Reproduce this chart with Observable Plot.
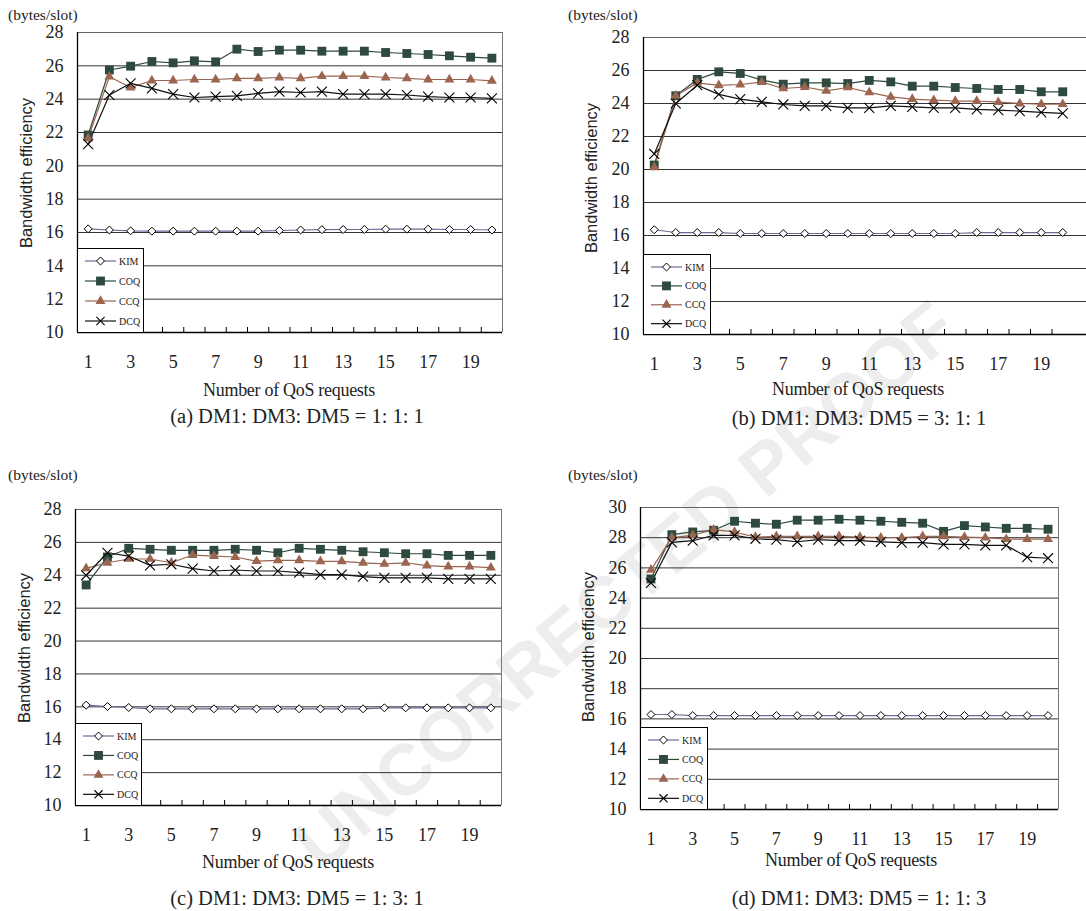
<!DOCTYPE html>
<html><head><meta charset="utf-8">
<script src="https://cdn.jsdelivr.net/npm/d3@7"></script>
<script src="https://cdn.jsdelivr.net/npm/@observablehq/plot@0.6"></script>
<style>
body{margin:0;background:#fff;}
#root{position:relative;width:1086px;height:911px;overflow:hidden;font-family:"Liberation Serif","Times New Roman",serif;color:#222;}
.abs{position:absolute;white-space:nowrap;line-height:1;}
.c{transform:translate(-50%,-50%);}
svg{overflow:visible;}
</style></head><body><div id="root"></div>
<script>
// ---------------- data ----------------
const requests = [1,2,3,4,5,6,7,8,9,10,11,12,13,14,15,16,17,18,19,20];
const xTickLabels = [1,3,5,7,9,11,13,15,17,19];
const seriesNames = ["KIM","COQ","CCQ","DCQ"];
const yTicks28 = [10,12,14,16,18,20,22,24,26,28];
const yTicks30 = [10,12,14,16,18,20,22,24,26,28,30];

const kimA = [16.22,16.15,16.1,16.08,16.08,16.08,16.08,16.08,16.08,16.12,16.15,16.17,16.18,16.18,16.2,16.2,16.2,16.18,16.18,16.15];
const coqA = [21.85,25.75,25.98,26.26,26.18,26.3,26.24,27.0,26.86,26.94,26.94,26.88,26.88,26.88,26.8,26.74,26.68,26.6,26.52,26.46];
const ccqA = [21.65,25.35,24.7,25.12,25.12,25.18,25.18,25.25,25.25,25.3,25.25,25.38,25.38,25.38,25.3,25.25,25.18,25.18,25.18,25.1];
const dcqA = [21.3,24.25,24.95,24.65,24.3,24.1,24.15,24.2,24.35,24.45,24.4,24.45,24.3,24.3,24.3,24.25,24.15,24.1,24.1,24.05];

const kimB = [16.35,16.18,16.18,16.18,16.12,16.12,16.12,16.12,16.12,16.12,16.12,16.12,16.12,16.12,16.12,16.18,16.18,16.18,16.18,16.18];
const coqB = [20.27,24.47,25.46,25.92,25.82,25.42,25.17,25.25,25.25,25.21,25.4,25.31,25.05,25.05,24.97,24.91,24.85,24.85,24.71,24.71];
const ccqB = [20.13,24.47,25.25,25.1,25.15,25.3,24.91,25.0,24.77,24.97,24.67,24.4,24.27,24.2,24.15,24.15,24.08,24.0,23.96,23.96];
const dcqB = [20.94,24.0,25.11,24.55,24.27,24.1,23.94,23.86,23.86,23.74,23.74,23.86,23.8,23.74,23.74,23.64,23.6,23.54,23.46,23.4];

const kimC = [16.1,16.02,15.96,15.88,15.88,15.88,15.88,15.88,15.88,15.88,15.88,15.88,15.88,15.88,15.94,15.94,15.94,15.94,15.94,15.94];
const coqC = [23.41,25.11,25.64,25.58,25.52,25.52,25.52,25.58,25.52,25.37,25.64,25.58,25.52,25.43,25.37,25.31,25.31,25.21,25.21,25.21];
const ccqC = [24.42,24.76,24.99,24.99,24.76,25.23,25.17,25.11,24.86,24.91,24.91,24.85,24.85,24.76,24.69,24.76,24.59,24.53,24.53,24.46];
const dcqC = [24.0,25.37,25.17,24.6,24.67,24.4,24.26,24.32,24.26,24.26,24.16,24.04,24.04,23.92,23.84,23.84,23.84,23.78,23.78,23.78];

const kimD = [16.29,16.29,16.22,16.22,16.22,16.22,16.22,16.22,16.22,16.22,16.22,16.22,16.22,16.22,16.22,16.22,16.22,16.22,16.22,16.22];
const coqD = [25.27,28.2,28.38,28.49,29.09,28.96,28.89,29.16,29.16,29.22,29.16,29.09,29.02,28.96,28.42,28.8,28.71,28.62,28.62,28.56];
const ccqD = [25.87,28.0,28.16,28.53,28.38,28.04,28.09,28.09,28.09,28.09,28.04,28.0,28.0,28.09,28.09,28.04,28.0,27.9,27.9,27.9];
const dcqD = [25.0,27.69,27.8,28.16,28.16,27.93,27.87,27.73,27.87,27.8,27.8,27.73,27.67,27.67,27.56,27.56,27.49,27.49,26.71,26.64];

const captions = ["(a) DM1: DM3: DM5 = 1: 1: 1","(b) DM1: DM3: DM5 = 3: 1: 1","(c) DM1: DM3: DM5 = 1: 3: 1","(d) DM1: DM3: DM5 = 1: 1: 3"];
const unitLabel = "(bytes/slot)";
const yTitle = "Bandwidth efficiency";
const xTitle = "Number of QoS requests";
const watermark = "UNCORRECTED PROOF";

// ---------------- styles & layout ----------------
const SERIF = "'Liberation Serif','Times New Roman',serif";
const SANS = "'Liberation Sans',Arial,sans-serif";
const styles = {
  KIM: {line:"#6b6b96", symbol:"diamond2", r:3.6, fill:"#fff", stroke:"#000", sw:1},
  COQ: {line:"#2e4a3e", symbol:"square", r:5, fill:"#2e4a3e", stroke:"none", sw:0},
  CCQ: {line:"#9b6550", symbol:"triangle", r:3.7, fill:"#9b6550", stroke:"none", sw:0},
  DCQ: {line:"#111", symbol:"times", r:4.6, fill:"none", stroke:"#000", sw:1.1}
};
const panels = [
  {vals:[kimA,coqA,ccqA,dcqA], L:77, R:502, T:32, B:332, yTicks:yTicks28, xEnd:20.5, border:true,
   unit:[8,15], yt:[26,173], xt:[289,390], cap:[297,416], leg:[77,248,67,84]},
  {vals:[kimB,coqB,ccqB,dcqB], L:643, R:1073, T:37, B:334, yTicks:yTicks28, xEnd:21.4, border:false,
   unit:[568,15], yt:[591,178], xt:[858,389], cap:[859,418], leg:[643,254,68,80]},
  {vals:[kimC,coqC,ccqC,dcqC], L:75, R:501, T:509, B:805, yTicks:yTicks28, xEnd:20.5, border:true,
   unit:[8,475], yt:[24,648], xt:[288,862], cap:[297,898], leg:[75,723,67,82]},
  {vals:[kimD,coqD,ccqD,dcqD], L:640, R:1058, T:507, B:809, yTicks:yTicks30, xEnd:20.5, border:true,
   unit:[568,475], yt:[588,647], xt:[851,860], cap:[859,898], leg:[640,727,68,82]}
];

const root = document.getElementById("root");

// watermark (behind everything); kept fully inside the page
const wm = document.createElement("div");
wm.className = "abs";
wm.textContent = watermark;
Object.assign(wm.style,{fontFamily:SANS, fontWeight:"bold", fontSize:"72px", color:"#ededed",
  transformOrigin:"50% 50%", transform:"rotate(-40deg)"});
root.appendChild(wm);
{
  const w = wm.offsetWidth, h = wm.offsetHeight;
  wm.style.left = (625 - w / 2) + "px";
  wm.style.top = (585 - h / 2) + "px";
}

function addText(txt, x, y, css, centered){
  const d = document.createElement("div");
  d.className = "abs" + (centered ? " c" : "");
  d.textContent = txt;
  Object.assign(d.style, {left:x+"px", top:y+"px", fontFamily:SERIF}, css);
  root.appendChild(d);
  return d;
}

panels.forEach((p, pi) => {
  const mL = 70, mT = 10, mB = 50, mR = 10;
  const W = mL + (p.R - p.L) + mR, H = mT + (p.B - p.T) + mB;
  const yMax = p.yTicks[p.yTicks.length-1];
  const boundaries = requests.slice(0,19).map(d => d + 0.5);
  const marks = [
    Plot.ruleY(p.yTicks.slice(1, -1), {y: d => d, x1: 0.5, x2: p.xEnd, stroke: "#333", strokeWidth: 1}),
    Plot.ruleY([yMax], {y: d => d, x1: 0.5, x2: p.xEnd, stroke: "#666", strokeWidth: 1}),
  ];
  if (p.border) marks.push(Plot.ruleX([20.5], {x: d => d, y1: 10, y2: yMax, stroke: "#777", strokeWidth: 1}));
  marks.push(
    Plot.axisY({ticks: p.yTicks, tickSize: 0, tickPadding: 14, fontSize: 18, fontFamily: SERIF, label: null, fill: "#222"}),
    Plot.axisX({ticks: xTickLabels, tickSize: 0, tickPadding: 23, fontSize: 18, fontFamily: SERIF, label: null, fill: "#222"}),
    Plot.axisX({ticks: boundaries, tickSize: -5, tickFormat: () => "", label: null, stroke: "#000"}),
    Plot.ruleY([10], {y: d => d, x1: 0.5, x2: p.xEnd, stroke: "#000", strokeWidth: 1.3}),
    Plot.ruleX([0.5], {x: d => d, y1: 10, y2: yMax, stroke: "#000", strokeWidth: 1.3})
  );
  seriesNames.forEach((s, si) => {
    const st = styles[s];
    const rows = requests.map((x, i) => ({x, y: p.vals[si][i]}));
    marks.push(Plot.line(rows, {x: "x", y: "y", stroke: st.line, strokeWidth: 1.2}));
  });
  seriesNames.forEach((s, si) => {
    const st = styles[s];
    const rows = requests.map((x, i) => ({x, y: p.vals[si][i]}));
    marks.push(Plot.dot(rows, {x: "x", y: "y", symbol: st.symbol, r: st.r, fill: st.fill, stroke: st.stroke, strokeWidth: st.sw}));
  });
  const chart = Plot.plot({
    width: W, height: H, marginLeft: mL, marginRight: mR, marginTop: mT, marginBottom: mB,
    x: {domain: [0.5, 20.5], axis: null},
    y: {domain: [10, yMax], axis: null},
    style: {fontFamily: SERIF, background: "transparent", overflow: "visible"},
    marks
  });
  chart.style.position = "absolute";
  chart.style.left = (p.L - mL) + "px";
  chart.style.top = (p.T - mT) + "px";
  root.appendChild(chart);

  addText(unitLabel, p.unit[0], p.unit[1] - 8, {fontSize: "15.5px"}, false);
  addText(yTitle, p.yt[0], p.yt[1], {fontSize: "16.5px", fontFamily: SANS,
    transform: "translate(-50%,-50%) rotate(-90deg)"}, false);
  addText(xTitle, p.xt[0], p.xt[1], {fontSize: "18px", letterSpacing: "-0.3px"}, true);
  addText(captions[pi], p.cap[0], p.cap[1], {fontSize: "20.5px"}, true);

  // legend
  const [lx, ly, lw, lh] = p.leg;
  const box = document.createElement("div");
  box.className = "abs";
  Object.assign(box.style, {left: lx + "px", top: ly + "px", width: (lw - 2) + "px", height: (lh - 1) + "px",
    border: "1px solid #000", borderBottom: "none", background: "#fff"});
  root.appendChild(box);
  const svg = d3.select(box).append("svg").attr("width", lw).attr("height", lh)
    .style("position", "absolute").style("left", "-1px").style("top", "-1px");
  const symMap = {diamond2: d3.symbolDiamond2, square: d3.symbolSquare, triangle: d3.symbolTriangle, times: d3.symbolTimes};
  const step = (lh - 12) / 3.6;
  seriesNames.forEach((s, si) => {
    const st = styles[s];
    const yy = 13 + si * step;
    svg.append("line").attr("x1", 8).attr("x2", 39).attr("y1", yy).attr("y2", yy)
      .attr("stroke", st.line).attr("stroke-width", 1.2);
    const rr = s === "DCQ" ? 3.8 : st.r;
    svg.append("path").attr("transform", `translate(23.5,${yy})`)
      .attr("d", d3.symbol(symMap[st.symbol], Math.PI * rr * rr)())
      .attr("fill", st.fill).attr("stroke", st.stroke === "none" ? null : st.stroke).attr("stroke-width", st.sw);
    svg.append("text").attr("x", 42).attr("y", yy + 3.5).text(s)
      .attr("font-size", 10).attr("font-family", SERIF).attr("fill", "#222");
  });
});
</script>
</body></html>
